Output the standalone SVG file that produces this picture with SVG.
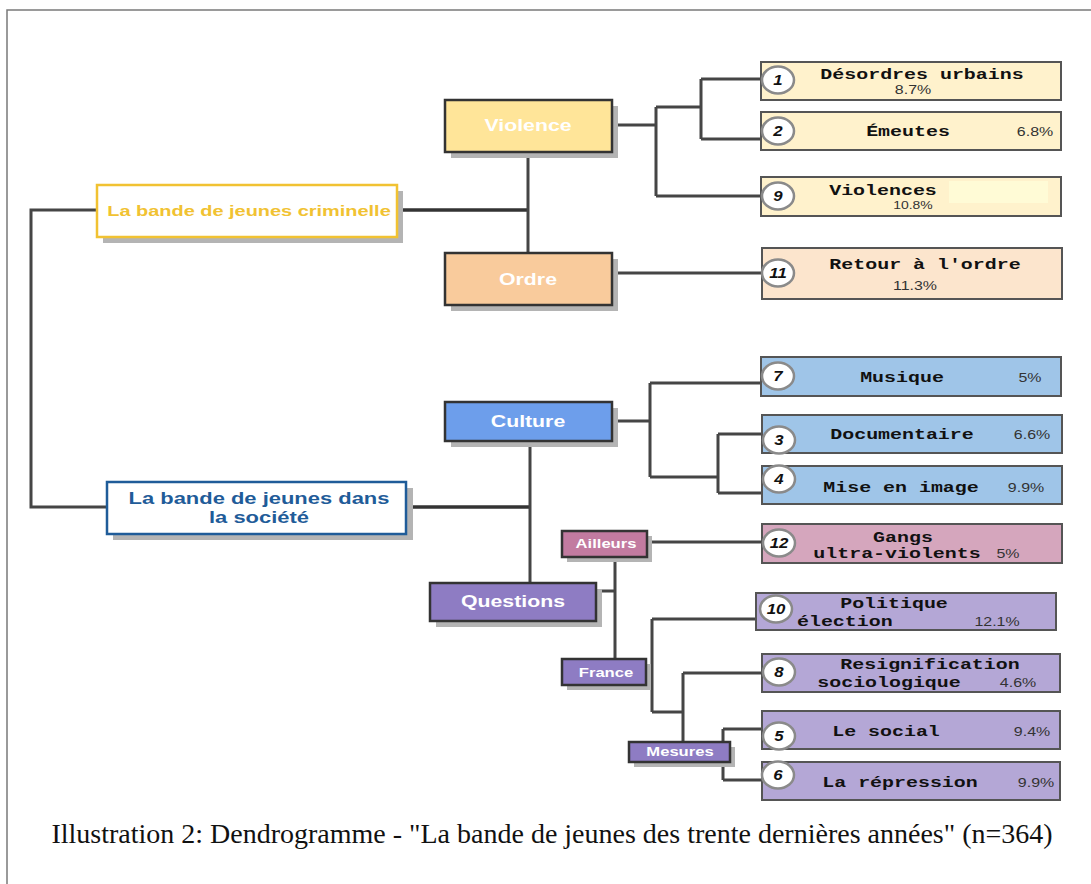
<svg xmlns="http://www.w3.org/2000/svg" width="1091" height="884" viewBox="0 0 1091 884">
<style>
.frame{fill:none;stroke:#7a7a7a;stroke-width:1.5}
.c{fill:none;stroke:#454545;stroke-width:3}
.ct{fill:none;stroke:#333;stroke-width:3.5}
.sh{fill:#b4b4b4}
.nb{stroke:#333;stroke-width:2.5}
.leaf{stroke:#555;stroke-width:2}
.ci{fill:#fff;stroke:#8a8a8a;stroke-width:2.5}
.num{font-family:"Liberation Sans",Arial,sans-serif;font-weight:bold;font-style:italic;font-size:14px;fill:#111;text-anchor:middle}
.m{font-family:"Liberation Mono","Courier New",monospace;font-weight:bold;font-size:15px;fill:#111;text-anchor:middle}
.ms{font-family:"Liberation Mono","Courier New",monospace;font-weight:bold;font-size:15px;fill:#111;text-anchor:start}
.p{font-family:"Liberation Sans",Arial,sans-serif;font-size:12px;fill:#333;text-anchor:middle}
.nt{font-family:"Liberation Sans",Arial,sans-serif;font-weight:bold;font-size:16px;fill:#fff;text-anchor:middle}
.st{font-family:"Liberation Sans",Arial,sans-serif;font-weight:bold;font-size:12.5px;fill:#fff;text-anchor:middle}
.cap{font-family:"Liberation Serif","Times New Roman",serif;font-size:28px;fill:#111;text-anchor:middle}
</style>
<rect width="1091" height="884" fill="#fff"/>
<path class="frame" d="M7 884 V10 H1091"/>

<g id="connectors">
  <path class="c" d="M97 210 H31 V507 H107"/>
  <path class="ct" d="M397 210 H528"/>
  <path class="c" d="M528 152 V253"/>
  <path class="c" d="M612 125 H656 M656 107 V196 M656 107 H701 M701 79 V139 M701 79 H762 M701 139 H762 M656 196 H762"/>
  <path class="c" d="M612 273 H762"/>
  <path class="ct" d="M406 507 H530"/>
  <path class="c" d="M530 441 V583"/>
  <path class="c" d="M612 421 H650 M650 383 V477 M650 383 H762 M650 477 H718 M718 434 V493 M718 434 H763 M718 493 H763"/>
  <path class="c" d="M647 542 H763"/>
  <path class="c" d="M615 557 V659 M596 591 H615"/>
  <path class="c" d="M646 671 H652 M652 619 V712 M652 619 H760 M652 712 H683 M683 673 V742 M683 673 H763"/>
  <path class="c" d="M723 729 V780 M723 729 H763 M723 780 H763"/>
</g>

<g id="n-criminelle">
  <rect class="sh" x="103" y="191" width="300" height="52"/>
  <rect x="97" y="185" width="300" height="52" fill="#fff" stroke="#f1c232" stroke-width="2.5"/>
  <text transform="translate(249 216) scale(1.33 1)" style="font-family:'Liberation Sans',Arial,sans-serif;font-weight:bold;font-size:15px;fill:#f1c232;text-anchor:middle">La bande de jeunes criminelle</text>
</g>
<g id="n-societe">
  <rect class="sh" x="113" y="488" width="300" height="52"/>
  <rect x="107" y="482" width="299" height="52" fill="#fff" stroke="#1f5c99" stroke-width="2.5"/>
  <g style="font-family:'Liberation Sans',Arial,sans-serif;font-weight:bold;font-size:16.5px;fill:#1f5c99;text-anchor:middle">
    <text transform="translate(259 504) scale(1.33 1)">La bande de jeunes dans</text>
    <text transform="translate(259 523) scale(1.33 1)">la société</text>
  </g>
</g>

<g id="n-violence">
  <rect class="sh" x="451" y="106" width="167" height="52"/>
  <rect class="nb" x="445" y="100" width="167" height="52" fill="#ffe599"/>
  <text class="nt" transform="translate(528 131) scale(1.33 1)">Violence</text>
</g>
<g id="n-ordre">
  <rect class="sh" x="451" y="259" width="167" height="52"/>
  <rect class="nb" x="445" y="253" width="167" height="52" fill="#f9cb9c"/>
  <text class="nt" transform="translate(528 285) scale(1.33 1)">Ordre</text>
</g>
<g id="n-culture">
  <rect class="sh" x="451" y="408" width="167" height="39"/>
  <rect class="nb" x="445" y="402" width="167" height="39" fill="#6d9eeb"/>
  <text class="nt" transform="translate(528 427) scale(1.33 1)">Culture</text>
</g>
<g id="n-questions">
  <rect class="sh" x="436" y="589" width="166" height="38"/>
  <rect class="nb" x="430" y="583" width="166" height="38" fill="#8e7cc3"/>
  <text class="nt" transform="translate(513 607) scale(1.33 1)">Questions</text>
</g>
<g id="n-ailleurs">
  <rect class="sh" x="567" y="536" width="85" height="26"/>
  <rect class="nb" x="562" y="531" width="85" height="26" fill="#c27ba0"/>
  <text class="st" transform="translate(606 548) scale(1.33 1)">Ailleurs</text>
</g>
<g id="n-france">
  <rect class="sh" x="567" y="664" width="84" height="26"/>
  <rect class="nb" x="562" y="659" width="84" height="26" fill="#8e7cc3"/>
  <text class="st" transform="translate(606 677) scale(1.33 1)">France</text>
</g>
<g id="n-mesures">
  <rect class="sh" x="634" y="747" width="101" height="20"/>
  <rect class="nb" x="629" y="742" width="101" height="20" fill="#8e7cc3"/>
  <text class="st" transform="translate(680 756) scale(1.33 1)">Mesures</text>
</g>

<g id="leaf-1">
  <rect class="leaf" x="761" y="62" width="300" height="38" fill="#fff2cc"/>
  <ellipse class="ci" cx="778" cy="80" rx="16" ry="13.5"/>
  <text class="num" transform="translate(778 85) scale(1.2 1)">1</text>
  <text class="m" transform="translate(922 79) scale(1.33 1)">Désordres urbains</text>
  <text class="p" transform="translate(913 94) scale(1.33 1)">8.7%</text>
</g>
<g id="leaf-2">
  <rect class="leaf" x="761" y="112" width="300" height="38" fill="#fff2cc"/>
  <ellipse class="ci" cx="778" cy="131" rx="16" ry="13.5"/>
  <text class="num" transform="translate(778 136) scale(1.2 1)">2</text>
  <text class="m" transform="translate(908 136) scale(1.33 1)">Émeutes</text>
  <text class="p" transform="translate(1035 136) scale(1.33 1)">6.8%</text>
</g>
<g id="leaf-9">
  <rect class="leaf" x="761" y="177" width="300" height="39" fill="#fff2cc"/>
  <rect x="949" y="181" width="99" height="22" fill="#fffbd6"/>
  <ellipse class="ci" cx="778" cy="196" rx="16" ry="13.5"/>
  <text class="num" transform="translate(778 201) scale(1.2 1)">9</text>
  <text class="m" transform="translate(883 195) scale(1.33 1)">Violences</text>
  <text class="p" transform="translate(913 209) scale(1.33 1)" style="font-size:10.5px">10.8%</text>
</g>
<g id="leaf-11">
  <rect class="leaf" x="762" y="248" width="300" height="51" fill="#fce5cd"/>
  <ellipse class="ci" cx="778" cy="273" rx="16" ry="13.5"/>
  <text class="num" transform="translate(778 278) scale(1.2 1)">11</text>
  <text class="m" transform="translate(925 269) scale(1.33 1)">Retour à l'ordre</text>
  <text class="p" transform="translate(915 290) scale(1.33 1)">11.3%</text>
</g>
<g id="leaf-7">
  <rect class="leaf" x="761" y="357" width="300" height="39" fill="#9fc5e8"/>
  <ellipse class="ci" cx="778" cy="376" rx="16" ry="13.5"/>
  <text class="num" transform="translate(778 381) scale(1.2 1)">7</text>
  <text class="m" transform="translate(902 382) scale(1.33 1)">Musique</text>
  <text class="p" transform="translate(1030 382) scale(1.33 1)">5%</text>
</g>
<g id="leaf-3">
  <rect class="leaf" x="762" y="415" width="300" height="38" fill="#9fc5e8"/>
  <ellipse class="ci" cx="779" cy="440" rx="16" ry="13.5"/>
  <text class="num" transform="translate(779 445) scale(1.2 1)">3</text>
  <text class="m" transform="translate(902 439) scale(1.33 1)">Documentaire</text>
  <text class="p" transform="translate(1032 439) scale(1.33 1)">6.6%</text>
</g>
<g id="leaf-4">
  <rect class="leaf" x="762" y="466" width="300" height="38" fill="#9fc5e8"/>
  <ellipse class="ci" cx="779" cy="479" rx="16" ry="13.5"/>
  <text class="num" transform="translate(779 484) scale(1.2 1)">4</text>
  <text class="m" transform="translate(901 492) scale(1.33 1)">Mise en image</text>
  <text class="p" transform="translate(1026 492) scale(1.33 1)">9.9%</text>
</g>
<g id="leaf-12">
  <rect class="leaf" x="762" y="524" width="300" height="39" fill="#d5a6bd"/>
  <ellipse class="ci" cx="779" cy="543" rx="16" ry="13.5"/>
  <text class="num" transform="translate(779 548) scale(1.2 1)">12</text>
  <text class="m" transform="translate(903 542) scale(1.33 1)">Gangs</text>
  <text class="m" transform="translate(897 558) scale(1.33 1)">ultra-violents</text>
  <text class="p" transform="translate(1008 558) scale(1.33 1)">5%</text>
</g>
<g id="leaf-10">
  <rect class="leaf" x="756" y="593" width="300" height="37" fill="#b4a7d6"/>
  <ellipse class="ci" cx="776" cy="609" rx="16" ry="13.5"/>
  <text class="num" transform="translate(776 614) scale(1.2 1)">10</text>
  <text class="m" transform="translate(894 608) scale(1.33 1)">Politique</text>
  <text class="ms" transform="translate(797 626) scale(1.33 1)">élection</text>
  <text class="p" transform="translate(997 626) scale(1.33 1)">12.1%</text>
</g>
<g id="leaf-8">
  <rect class="leaf" x="762" y="654" width="298" height="38" fill="#b4a7d6"/>
  <ellipse class="ci" cx="779" cy="672" rx="16" ry="13.5"/>
  <text class="num" transform="translate(779 677) scale(1.2 1)">8</text>
  <text class="m" transform="translate(930 669) scale(1.33 1)">Resignification</text>
  <text class="m" transform="translate(889 687) scale(1.33 1)">sociologique</text>
  <text class="p" transform="translate(1018 687) scale(1.33 1)">4.6%</text>
</g>
<g id="leaf-5">
  <rect class="leaf" x="762" y="711" width="298" height="38" fill="#b4a7d6"/>
  <ellipse class="ci" cx="779" cy="736" rx="16" ry="13.5"/>
  <text class="num" transform="translate(779 741) scale(1.2 1)">5</text>
  <text class="m" transform="translate(886 736) scale(1.33 1)">Le social</text>
  <text class="p" transform="translate(1032 736) scale(1.33 1)">9.4%</text>
</g>
<g id="leaf-6">
  <rect class="leaf" x="762" y="762" width="298" height="38" fill="#b4a7d6"/>
  <ellipse class="ci" cx="778" cy="775" rx="16" ry="13.5"/>
  <text class="num" transform="translate(778 780) scale(1.2 1)">6</text>
  <text class="m" transform="translate(900 787) scale(1.33 1)">La répression</text>
  <text class="p" transform="translate(1036 787) scale(1.33 1)">9.9%</text>
</g>

<text class="cap" x="552" y="843">Illustration 2: Dendrogramme - "La bande de jeunes des trente dernières années" (n=364)</text>
</svg>
